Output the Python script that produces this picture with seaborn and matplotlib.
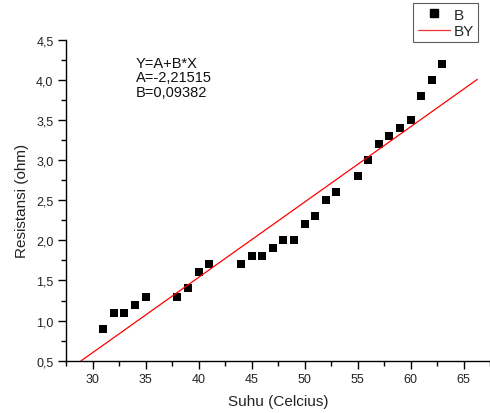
import numpy as np
import pandas as pd
import matplotlib
matplotlib.use("Agg")
import matplotlib.pyplot as plt
from matplotlib.ticker import MultipleLocator, FuncFormatter
from matplotlib.lines import Line2D
import seaborn as sns

# Measured resistance versus temperature
suhu = [31, 32, 33, 34, 35, 38, 39, 40, 41, 44, 45, 46, 47, 48,
        49, 50, 51, 52, 53, 55, 56, 57, 58, 59, 60, 61, 62, 63]
resistansi = [0.9, 1.1, 1.1, 1.2, 1.3, 1.3, 1.4, 1.6, 1.7, 1.7, 1.8, 1.8, 1.9, 2.0,
              2.0, 2.2, 2.3, 2.5, 2.6, 2.8, 3.0, 3.2, 3.3, 3.4, 3.5, 3.8, 4.0, 4.2]

# Linear fit parameters Y = A + B*X
fit_A = -2.21515
fit_B = 0.09382
fit_x_span = [28.9, 66.3]

df = pd.DataFrame({"Suhu": suhu, "Resistansi": resistansi})

sns.set_theme(style="white")
plt.rcParams["font.family"] = ["Liberation Sans", "DejaVu Sans"]

fig = plt.figure(figsize=(4.9, 4.14), dpi=100)
ax = fig.add_axes([0.1347, 0.1263, 0.8653, 0.7754])

sns.scatterplot(data=df, x="Suhu", y="Resistansi", ax=ax, marker="s",
                color="black", s=30, edgecolor="black", linewidth=0, legend=False)

fx = np.linspace(fit_x_span[0], fit_x_span[1], 50)
fy = fit_A + fit_B * fx
sns.lineplot(x=fx, y=fy, ax=ax, color="red", linewidth=0.9)

ax.set_xlim(27.5, 67.5)
ax.set_ylim(0.5, 4.5)
ax.xaxis.set_major_locator(MultipleLocator(5))
ax.xaxis.set_minor_locator(MultipleLocator(2.5))
ax.yaxis.set_major_locator(MultipleLocator(0.5))
ax.yaxis.set_minor_locator(MultipleLocator(0.25))
ax.yaxis.set_major_formatter(FuncFormatter(lambda v, p: f"{v:.1f}".replace(".", ",")))
ax.xaxis.set_major_formatter(FuncFormatter(lambda v, p: f"{v:.0f}"))

for side in ("top", "right"):
    ax.spines[side].set_visible(False)
for side in ("left", "bottom"):
    ax.spines[side].set_color("black")
    ax.spines[side].set_linewidth(1.0)

ax.tick_params(which="major", direction="out", length=6, width=1, color="black",
               labelsize=9, labelcolor="#222222", bottom=True, left=True, pad=3)
ax.tick_params(which="minor", direction="out", length=3.5, width=1, color="black",
               bottom=True, left=True)

ax.set_xlabel("Suhu (Celcius)", fontsize=11, color="#222222", labelpad=6)
ax.set_ylabel("Resistansi (ohm)", fontsize=11, color="#222222", labelpad=5)

ax.text(0.165, 0.95, "Y=A+B*X\nA=-2,21515\nB=0,09382", transform=ax.transAxes,
        fontsize=10.5, color="#111111", va="top", ha="left", linespacing=1.05)

handles = [Line2D([], [], marker="s", color="black", linestyle="none", markersize=6),
           Line2D([], [], color="#ee3333", linewidth=0.9)]
leg = fig.legend(handles, ["B", "BY"], loc="upper left",
                 bbox_to_anchor=(413 / 490, 1 - 4 / 414), fontsize=11,
                 frameon=True, fancybox=False, borderpad=0.3, handlelength=2.1,
                 handletextpad=0.25, labelspacing=0.15, borderaxespad=0)
leg.get_frame().set_edgecolor("#333333")
leg.get_frame().set_linewidth(0.8)

fig.savefig("out.png", dpi=100)
